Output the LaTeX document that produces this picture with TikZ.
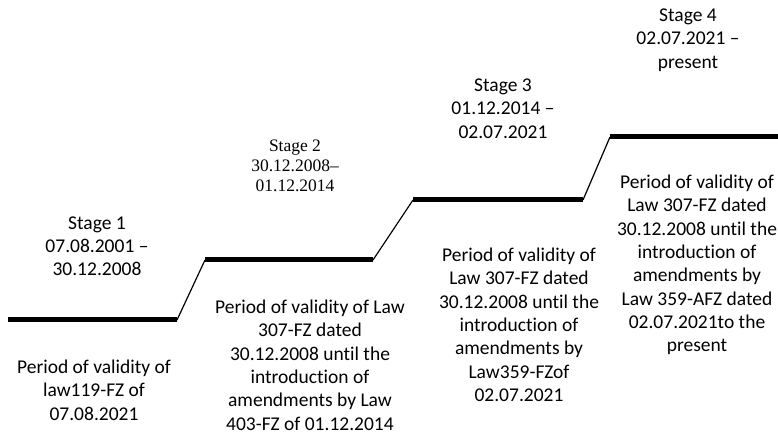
\documentclass[tikz,border=0pt]{standalone}
\usepackage{fontspec}
\setmainfont{Carlito}[Ligatures={NoCommon}]
\newfontfamily\timesfont{Liberation Serif}
\begin{document}
\begin{tikzpicture}[x=1bp,y=-1bp,
  calib/.style={font=\fontsize{19.5bp}{23.3bp}\selectfont, align=center, inner sep=0pt, anchor=north},
  tnr/.style={font=\timesfont\fontsize{17.5bp}{20bp}\selectfont, align=center, inner sep=0pt, anchor=north},
  stepline/.style={line width=5bp, line cap=butt},
  riser/.style={line width=1.2bp}]
\useasboundingbox (0,0) rectangle (778,436);
\coordinate (a1) at (8,320);
\coordinate (a2) at (177,320);
\coordinate (b1) at (205,260);
\coordinate (b2) at (373,260);
\coordinate (c1) at (413,200);
\coordinate (c2) at (583,200);
\coordinate (d1) at (610,137);
\coordinate (d2) at (778,137);
\draw[stepline] (a1) -- (a2);
\draw[stepline] (b1) -- (b2);
\draw[stepline] (c1) -- (c2);
\draw[stepline] (d1) -- (d2);
\draw[riser] (a2) -- (b1);
\draw[riser] (b2) -- (c1);
\draw[riser] (c2) -- (d1);
\node[calib] (s1top) at (97,212.5) {\strut Stage 1\\07.08.2001 –\\30.12.2008};
\node[calib] (s1bot) at (94,357.1) {\strut Period of validity of\\law119-FZ of\\07.08.2021};
\node[tnr] (s2top) at (295,137.6) {\strut Stage 2\\30.12.2008–\\01.12.2014};
\node[calib] (s2bot) at (310,297.1) {\strut Period of validity of Law\\307-FZ dated\\30.12.2008 until the\\introduction of\\amendments by Law\\403-FZ of 01.12.2014};
\node[calib] (s3top) at (503,75.1) {\strut Stage 3\\01.12.2014 –\\02.07.2021};
\node[calib] (s3bot) at (519,245.1) {\strut Period of validity of\\Law 307-FZ dated\\30.12.2008 until the\\introduction of\\amendments by\\Law359-FZof\\02.07.2021};
\node[calib] (s4top) at (688,5.1) {\strut Stage 4\\02.07.2021 –\\present};
\node[calib] (s4bot) at (697,172.1) {\strut Period of validity of\\Law 307-FZ dated\\30.12.2008 until the\\introduction of\\amendments by\\Law 359-AFZ dated\\02.07.2021to the\\present};
\end{tikzpicture}
\end{document}
